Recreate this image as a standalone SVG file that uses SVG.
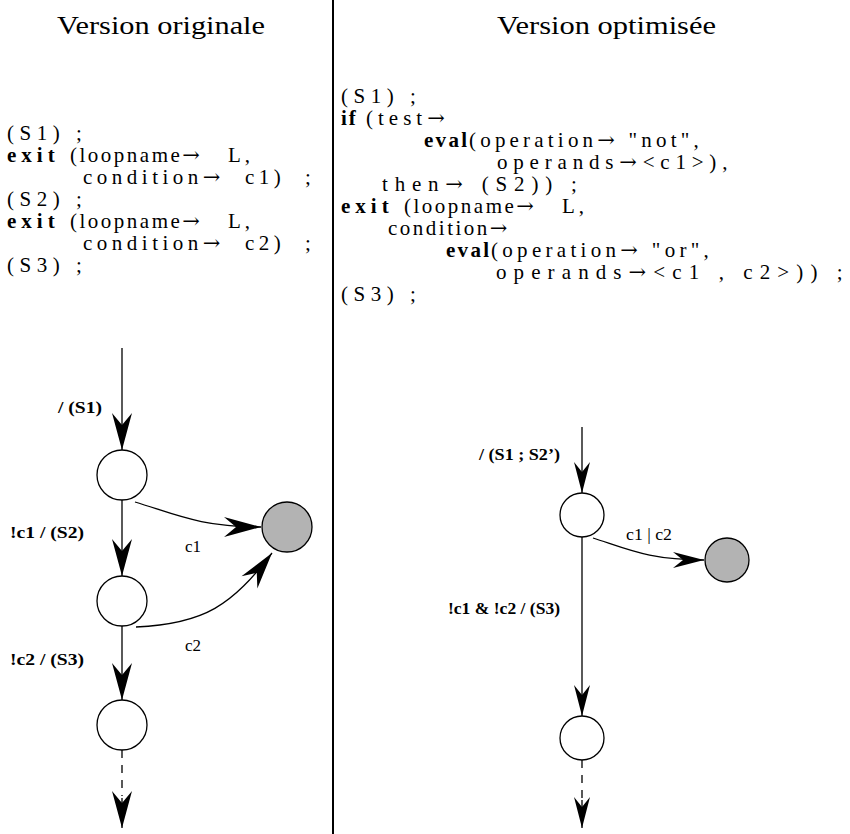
<svg xmlns="http://www.w3.org/2000/svg" width="850" height="834" viewBox="0 0 850 834">
<style>
.title{font-family:"Liberation Serif","DejaVu Serif",serif;font-size:25px;fill:#000}
.code{font-family:"Liberation Serif","DejaVu Serif",serif;font-size:21px;fill:#000}
.b{font-weight:bold}
.ar{font-family:"DejaVu Serif","Liberation Serif",serif;font-weight:normal}
.ls-s{letter-spacing:5.5px}
.ls-exit{letter-spacing:5px}
.ls-lp{letter-spacing:2.5px}
.ls-L{letter-spacing:4px}
.ls-cond{letter-spacing:4.5px}
.ls-c{letter-spacing:4.5px}
.lbl{font-family:"Liberation Serif","DejaVu Serif",serif;font-size:16px;font-weight:bold;fill:#000}
.cl{font-family:"Liberation Serif","DejaVu Serif",serif;font-size:17px;fill:#000}
.edge{fill:none;stroke:#000;stroke-width:1.3}
.dash{stroke-dasharray:8 7}
.st{fill:#fff;stroke:#000;stroke-width:1.3}
.fin{fill:#b3b3b3;stroke:#000;stroke-width:1.3}
</style>
<defs>
<marker id="ah" markerUnits="userSpaceOnUse" orient="auto" refX="0" refY="0" markerWidth="40" markerHeight="40" overflow="visible">
<path d="M0,0 L-37,-10 L-25,0 L-37,10 Z" fill="#000"/>
</marker>
<marker id="ahs" markerUnits="userSpaceOnUse" orient="auto" refX="0" refY="0" markerWidth="40" markerHeight="40" overflow="visible">
<path d="M0,0 L-31,-8 L-21,0 L-31,8 Z" fill="#000"/>
</marker>
</defs>

<line x1="333" y1="0" x2="333" y2="834" stroke="#000" stroke-width="2"/>

<g id="left-text">
<text class="title" x="57" y="34" textLength="208" lengthAdjust="spacingAndGlyphs">Version originale</text>
<text class="code ls-s" x="7" y="140">(S1) ;</text>
<text class="code" y="162"><tspan class="b ls-exit" x="7">exit </tspan><tspan class="ls-lp" x="70">(loopname</tspan><tspan class="ar">→ </tspan><tspan class="ls-L" x="228">L,</tspan></text>
<text class="code" y="184"><tspan class="ls-cond" x="83">condition</tspan><tspan class="ar">→ </tspan><tspan class="ls-c" x="245">c1) </tspan><tspan x="305">;</tspan></text>
<text class="code ls-s" x="7" y="206">(S2) ;</text>
<text class="code" y="228"><tspan class="b ls-exit" x="7">exit </tspan><tspan class="ls-lp" x="70">(loopname</tspan><tspan class="ar">→ </tspan><tspan class="ls-L" x="228">L,</tspan></text>
<text class="code" y="250"><tspan class="ls-cond" x="83">condition</tspan><tspan class="ar">→ </tspan><tspan class="ls-c" x="245">c2) </tspan><tspan x="305">;</tspan></text>
<text class="code ls-s" x="7" y="272">(S3) ;</text>
</g>

<g id="right-text">
<text class="title" x="497" y="34" textLength="219" lengthAdjust="spacingAndGlyphs">Version optimisée</text>
<text class="code ls-s" x="341" y="103">(S1) ;</text>
<text class="code" y="125"><tspan class="b" x="341" style="letter-spacing:2px">if </tspan><tspan x="366" style="letter-spacing:5px">(test<tspan class="ar">→</tspan></tspan></text>
<text class="code" y="147"><tspan class="b" x="424" style="letter-spacing:2.3px">eval</tspan><tspan x="469" style="letter-spacing:4.2px">(operation<tspan class="ar">→</tspan> "not",</tspan></text>
<text class="code" x="497" y="169" style="letter-spacing:5.8px">operands<tspan class="ar">→</tspan>&lt;c1&gt;),</text>
<text class="code" x="382" y="191" style="letter-spacing:6.8px">then<tspan class="ar">→</tspan> (S2)) ;</text>
<text class="code" y="213"><tspan class="b ls-exit" x="341">exit </tspan><tspan class="ls-lp" x="404">(loopname</tspan><tspan class="ar">→ </tspan><tspan class="ls-L" x="562">L,</tspan></text>
<text class="code" x="388" y="235" style="letter-spacing:2.5px">condition<tspan class="ar">→</tspan></text>
<text class="code" y="257"><tspan class="b" x="446" style="letter-spacing:2.3px">eval</tspan><tspan x="491" style="letter-spacing:4.3px">(operation<tspan class="ar">→</tspan> "or",</tspan></text>
<text class="code" x="496" y="279" style="letter-spacing:7.1px">operands<tspan class="ar">→</tspan>&lt;c1 , c2&gt;)) ;</text>
<text class="code ls-s" x="341" y="301">(S3) ;</text>
</g>

<g id="connectors">
<line class="edge" x1="122" y1="348" x2="122" y2="450" marker-end="url(#ah)"/>
<line class="edge" x1="122" y1="500" x2="122" y2="576" marker-end="url(#ah)"/>
<line class="edge" x1="122" y1="626" x2="122" y2="700" marker-end="url(#ah)"/>
<line class="edge dash" x1="122" y1="750" x2="122" y2="796"/>
<line class="edge" x1="122" y1="798" x2="122" y2="828" marker-end="url(#ah)"/>
<path class="edge" d="M135,502 C175,514 200,527 261,527" marker-end="url(#ah)"/>
<path class="edge" d="M136,627 C205,624 232,605 272,553" marker-end="url(#ah)"/>

<line class="edge" x1="582" y1="427" x2="582" y2="493" marker-end="url(#ahs)"/>
<line class="edge" x1="582" y1="537" x2="582" y2="716" marker-end="url(#ahs)"/>
<line class="edge dash" x1="582" y1="760" x2="582" y2="798"/>
<line class="edge" x1="582" y1="800" x2="582" y2="828" marker-end="url(#ahs)"/>
<path class="edge" d="M593,538 C630,550 650,560 704,560" marker-end="url(#ahs)"/>
</g>

<g id="left-labels">
<text class="lbl" x="58" y="413" textLength="44" lengthAdjust="spacingAndGlyphs">/ (S1)</text>
<text class="lbl" x="10" y="538" textLength="74" lengthAdjust="spacingAndGlyphs">!c1 / (S2)</text>
<text class="cl" x="185" y="552">c1</text>
<text class="cl" x="185" y="651">c2</text>
<text class="lbl" x="10" y="665" textLength="74" lengthAdjust="spacingAndGlyphs">!c2 / (S3)</text>
</g>

<g id="right-labels">
<text class="lbl" x="479" y="460" textLength="81" lengthAdjust="spacingAndGlyphs">/ (S1 ; S2’)</text>
<text class="cl" x="626" y="540" textLength="46" lengthAdjust="spacingAndGlyphs">c1 | c2</text>
<text class="lbl" x="448" y="614" textLength="112" lengthAdjust="spacingAndGlyphs">!c1 &amp; !c2 / (S3)</text>
</g>

<g id="L1"><circle class="st" cx="122" cy="475" r="25"/></g>
<g id="L2"><circle class="st" cx="122" cy="601" r="25"/></g>
<g id="L3"><circle class="st" cx="122" cy="725" r="25"/></g>
<g id="Lexit"><circle class="fin" cx="287" cy="527" r="25"/></g>
<g id="R1"><circle class="st" cx="582" cy="515" r="22"/></g>
<g id="R2"><circle class="st" cx="582" cy="738" r="22"/></g>
<g id="Rexit"><circle class="fin" cx="727" cy="560" r="22"/></g>
</svg>
